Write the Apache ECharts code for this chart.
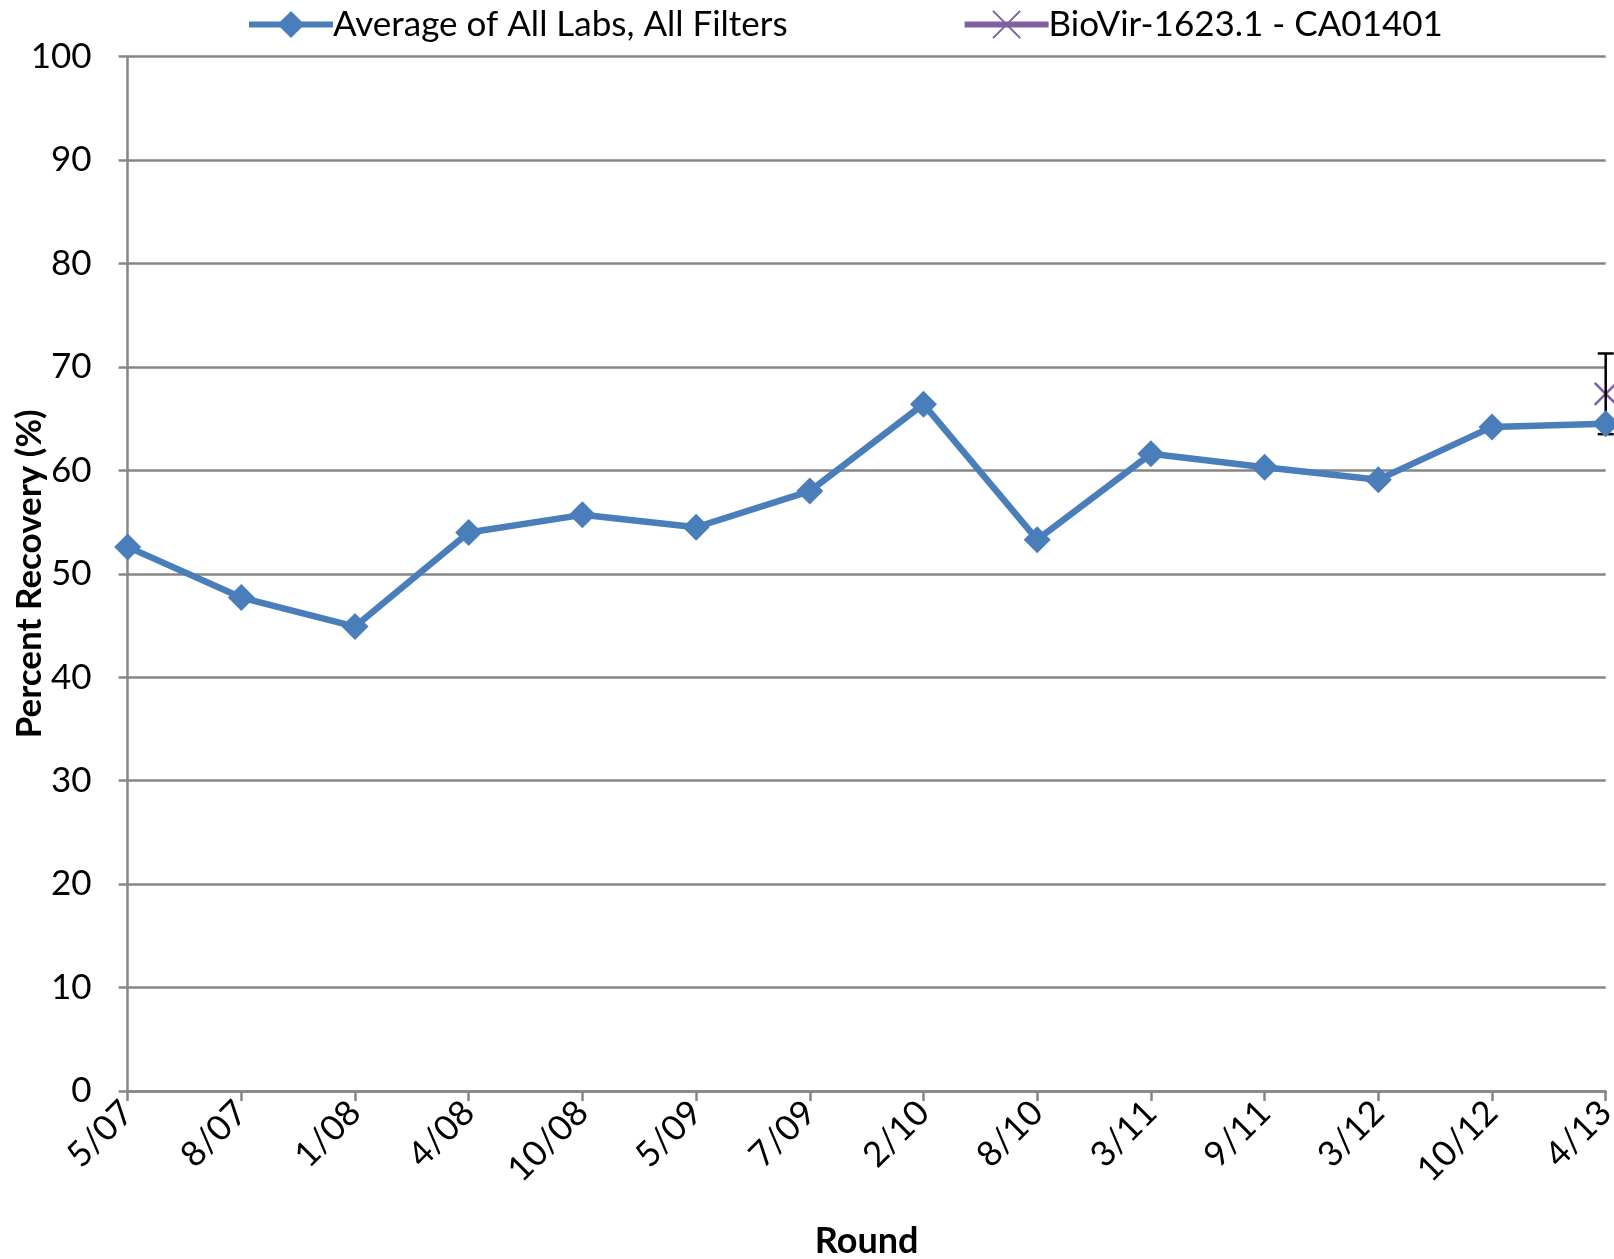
<!DOCTYPE html>
<html>
<head>
<meta charset="utf-8">
<script src="https://cdn.jsdelivr.net/npm/echarts@6/dist/echarts.min.js"></script>
<style>html,body{margin:0;padding:0;background:#fff}#c{width:1614px;height:1259px}</style>
</head>
<body>
<div id="c"></div>
<script>
const rounds = ['5/07','8/07','1/08','4/08','10/08','5/09','7/09','2/10','8/10','3/11','9/11','3/12','10/12','4/13'];
const avgAll = [52.6,47.7,44.9,54.0,55.7,54.5,58.0,66.4,53.3,61.6,60.3,59.1,64.2,64.5];
const bioVir = [null,null,null,null,null,null,null,null,null,null,null,null,null,67.4];
const bioVirErr = [null,null,null,null,null,null,null,null,null,null,null,null,null,3.9];
const yTicks = [0,10,20,30,40,50,60,70,80,90,100];

const FONT = 'Lato';
const errData = [];
bioVir.forEach((v,i)=>{ if(v!=null && bioVirErr[i]!=null) errData.push([i, v-bioVirErr[i], v+bioVirErr[i]]); });

const chart = echarts.init(document.getElementById('c'), null, {renderer:'canvas'});
chart.setOption({
  animation:false,
  textStyle:{fontFamily:FONT},
  grid:{left:127.6, right:8.3, top:56.6, bottom:168, containLabel:false, outerBoundsMode:'none'},
  legend:{
    top:2, left:241, itemGap:174, itemWidth:84, itemHeight:34,
    lineStyle:{width:6},
    textStyle:{fontSize:35, color:'#000', fontFamily:FONT, padding:[0,0,0,-5]},
    data:['Average of All Labs, All Filters','BioVir-1623.1 - CA01401']
  },
  xAxis:{
    type:'category', data:rounds, boundaryGap:false,
    name:'Round', nameLocation:'middle', nameGap:132,
    nameTextStyle:{fontSize:36, fontWeight:'bold', color:'#000', fontFamily:FONT},
    axisLine:{lineStyle:{color:'#868686', width:2.5}},
    axisTick:{alignWithLabel:true, length:10, lineStyle:{color:'#868686', width:2.5}},
    axisLabel:{rotate:45, fontSize:35, color:'#000', margin:16, interval:0, fontFamily:FONT},
    splitLine:{show:false}
  },
  yAxis:{
    type:'value', min:yTicks[0], max:yTicks[yTicks.length-1], interval:10,
    name:'Percent Recovery (%)', nameLocation:'middle', nameGap:80, nameMoveOverlap:false,
    nameTextStyle:{fontSize:35, fontWeight:'bold', color:'#000', fontFamily:FONT},
    axisLine:{show:true, lineStyle:{color:'#868686', width:2.5}},
    axisTick:{show:true, length:9, lineStyle:{color:'#868686', width:2.5}},
    axisLabel:{fontSize:35, color:'#000', margin:36, fontFamily:FONT},
    splitLine:{lineStyle:{color:'#868686', width:2.5}}
  },
  series:[
    {
      name:'Average of All Labs, All Filters', type:'line', data:avgAll, z:5,
      symbol:'diamond', symbolSize:27,
      lineStyle:{color:'#4a7ebb', width:6.5},
      itemStyle:{color:'#4a7ebb'}
    },
    {
      name:'BioVir-1623.1 - CA01401', type:'line', data:bioVir, z:3,
      symbol:'path://M0,0 L10,10 M10,0 L0,10', symbolSize:22,
      lineStyle:{color:'#7f60a3', width:6.5},
      itemStyle:{color:'rgba(0,0,0,0)', borderColor:'#7f60a3', borderWidth:2.5}
    },
    {
      type:'custom', z:4, clip:false, silent:true,
      data:errData, encode:{x:0, y:[1,2]},
      renderItem:function(params, api){
        const x = api.value(0);
        const lo = api.coord([x, api.value(1)]);
        const hi = api.coord([x, api.value(2)]);
        const w = 8;
        const st = {stroke:'#000', lineWidth:2.5};
        return {type:'group', children:[
          {type:'line', shape:{x1:lo[0],y1:lo[1],x2:hi[0],y2:hi[1]}, style:st},
          {type:'line', shape:{x1:hi[0]-w,y1:hi[1],x2:hi[0]+w,y2:hi[1]}, style:st},
          {type:'line', shape:{x1:lo[0]-w,y1:lo[1],x2:lo[0]+w,y2:lo[1]}, style:st}
        ]};
      }
    }
  ]
});
</script>
</body>
</html>
